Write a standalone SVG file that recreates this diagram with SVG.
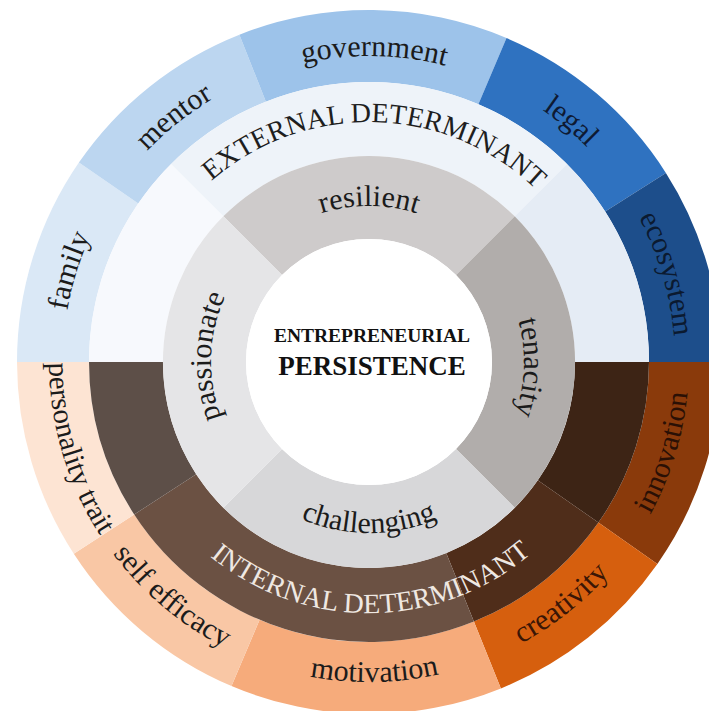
<svg xmlns="http://www.w3.org/2000/svg" xmlns:xlink="http://www.w3.org/1999/xlink" width="709" height="711" viewBox="0 0 709 711">
<style>
  .lbl { font-family: "Liberation Serif", "Times New Roman", serif; font-size: 30px; fill: #1b1b1b; }
  .cap { font-family: "Liberation Serif", "Times New Roman", serif; font-size: 28px; }
  .ctr { font-family: "Liberation Serif", "Times New Roman", serif; font-weight: bold; fill: #111; text-anchor: middle; }
</style>
<defs>
  <path id="p-family" d="M87.3,481.6 A306,306 0 0 1 202.4,105.4"/>
  <path id="p-mentor" d="M69.1,301 A306,306 0 0 1 377,56.1"/>
  <path id="p-government" d="M176.4,124.2 A306,306 0 0 1 569.8,131.1"/>
  <path id="p-legal" d="M369,56 A306,306 0 0 1 670.4,308.9"/>
  <path id="p-ecosystem" d="M537.9,106.8 A306,306 0 0 1 649.6,484"/>
  <path id="p-innovation" d="M543.3,630.4 A320,320 0 0 0 663.6,237"/>
  <path id="p-creativity" d="M360.6,681.9 A320,320 0 0 0 682.6,425.8"/>
  <path id="p-motivation" d="M167.6,610.7 A320,320 0 0 0 579,603.5"/>
  <path id="p-selfefficacy" d="M53.9,417.6 A320,320 0 0 0 369,682"/>
  <path id="p-personality" d="M75.5,234.4 A320,320 0 0 0 192.4,628.8"/>
  <path id="p-external" d="M164.4,236.6 A240,240 0 0 1 579.9,247.5"/>
  <path id="p-internal" d="M152.7,489.4 A251,251 0 0 0 587.5,485.6"/>
  <path id="p-resilient" d="M249.5,261.7 A156,156 0 0 1 488.5,261.7"/>
  <path id="p-tenacity" d="M472.7,246.8 A155,155 0 0 1 464.4,484.1"/>
  <path id="p-passionate" d="M263.3,479.4 A158,158 0 0 1 271.7,237.5"/>
  <path id="p-challenging" d="M238,471.9 A171,171 0 0 0 500,471.9"/>
</defs>
<rect width="709" height="711" fill="#ffffff"/>

<!-- outer ring: external determinants -->
<g id="family">
  <path d="M17,362 A352,352 0 0 1 78.9,162.6 L138.3,203.4 A280,280 0 0 0 89,362 Z" fill="#dae8f6"/>
  <text class="lbl"><textPath href="#p-family" startOffset="50%" text-anchor="middle">family</textPath></text>
</g>
<g id="mentor">
  <path d="M78.9,162.6 A352,352 0 0 1 239.4,34.7 L265.9,101.7 A280,280 0 0 0 138.3,203.4 Z" fill="#bcd6f0"/>
  <text class="lbl"><textPath href="#p-mentor" startOffset="50%" text-anchor="middle">mentor</textPath></text>
</g>
<g id="government">
  <path d="M239.4,34.7 A352,352 0 0 1 506.5,38 L478.4,104.3 A280,280 0 0 0 265.9,101.7 Z" fill="#9dc3ea"/>
  <text class="lbl"><textPath href="#p-government" startOffset="50%" text-anchor="middle">government</textPath></text>
</g>
<g id="legal">
  <path d="M506.5,38 A352,352 0 0 1 665.9,172.9 L605.2,211.6 A280,280 0 0 0 478.4,104.3 Z" fill="#2f72c0"/>
  <text class="lbl" fill="#0e1a33" style="fill:#0e1a33"><textPath href="#p-legal" startOffset="50%" text-anchor="middle">legal</textPath></text>
</g>
<g id="ecosystem">
  <path d="M665.9,172.9 A352,352 0 0 1 721,362 L649,362 A280,280 0 0 0 605.2,211.6 Z" fill="#1d4e8b"/>
  <text class="lbl" style="fill:#0b1a30"><textPath href="#p-ecosystem" startOffset="50%" text-anchor="middle">ecosystem</textPath></text>
</g>

<!-- outer ring: internal determinants -->
<g id="innovation">
  <path d="M721,362 A352,352 0 0 1 657.4,563.9 L598.4,522.6 A280,280 0 0 0 649,362 Z" fill="#8a3a0b"/>
  <text class="lbl" style="fill:#2a1005"><textPath href="#p-innovation" startOffset="50%" text-anchor="middle">innovation</textPath></text>
</g>
<g id="creativity">
  <path d="M657.4,563.9 A352,352 0 0 1 500.9,688.4 L473.9,621.6 A280,280 0 0 0 598.4,522.6 Z" fill="#d65f0e"/>
  <text class="lbl" style="fill:#3a1606"><textPath href="#p-creativity" startOffset="50%" text-anchor="middle">creativity</textPath></text>
</g>
<g id="motivation">
  <path d="M500.9,688.4 A352,352 0 0 1 231.5,686 L259.6,619.7 A280,280 0 0 0 473.9,621.6 Z" fill="#f6ab7b"/>
  <text class="lbl"><textPath href="#p-motivation" startOffset="50%" text-anchor="middle">motivation</textPath></text>
</g>
<g id="self-efficacy">
  <path d="M231.5,686 A352,352 0 0 1 73.8,553.7 L134.2,514.5 A280,280 0 0 0 259.6,619.7 Z" fill="#f9c7a5"/>
  <text class="lbl"><textPath href="#p-selfefficacy" startOffset="50%" text-anchor="middle">self efficacy</textPath></text>
</g>
<g id="personality-trait">
  <path d="M73.8,553.7 A352,352 0 0 1 17,362 L89,362 A280,280 0 0 0 134.2,514.5 Z" fill="#fde4d3"/>
  <text class="lbl" style="font-size:29px"><textPath href="#p-personality" startOffset="50%" text-anchor="middle">personality trait</textPath></text>
</g>

<!-- middle ring -->
<g id="external-determinant">
  <path d="M89,362 A280,280 0 0 1 171,164 L223.3,216.3 A206,206 0 0 0 163,362 Z" fill="#f7f9fd"/>
  <path d="M171,164 A280,280 0 0 1 567,164 L514.7,216.3 A206,206 0 0 0 223.3,216.3 Z" fill="#eef3f9"/>
  <path d="M567,164 A280,280 0 0 1 649,362 L575,362 A206,206 0 0 0 514.7,216.3 Z" fill="#e5ecf5"/>
  <text class="cap" style="fill:#1e1e1e"><textPath href="#p-external" startOffset="50%" text-anchor="middle">EXTERNAL DETERMINANT</textPath></text>
</g>
<g id="internal-determinant">
  <path d="M649,362 A280,280 0 0 1 598.4,522.6 L537.8,480.2 A206,206 0 0 0 575,362 Z" fill="#3d2415"/>
  <path d="M598.4,522.6 A280,280 0 0 1 473.9,621.6 L446.2,553 A206,206 0 0 0 537.8,480.2 Z" fill="#4f2d1a"/>
  <path d="M473.9,621.6 A280,280 0 0 1 134.2,514.5 L196.2,474.2 A206,206 0 0 0 446.2,553 Z" fill="#6b5143"/>
  <path d="M134.2,514.5 A280,280 0 0 1 89,362 L163,362 A206,206 0 0 0 196.2,474.2 Z" fill="#5d4f48"/>
  <text class="cap" style="fill:#efe8e2"><textPath href="#p-internal" startOffset="50%" text-anchor="middle">INTERNAL DETERMINANT</textPath></text>
</g>

<!-- gray ring -->
<g id="resilient">
  <path d="M223.3,216.3 A206,206 0 0 1 514.7,216.3 L456,275 A123,123 0 0 0 282,275 Z" fill="#cecbcb"/>
  <text class="lbl"><textPath href="#p-resilient" startOffset="50%" text-anchor="middle">resilient</textPath></text>
</g>
<g id="tenacity">
  <path d="M514.7,216.3 A206,206 0 0 1 514.7,507.7 L456,449 A123,123 0 0 0 456,275 Z" fill="#b1adab"/>
  <text class="lbl"><textPath href="#p-tenacity" startOffset="50%" text-anchor="middle">tenacity</textPath></text>
</g>
<g id="challenging">
  <path d="M514.7,507.7 A206,206 0 0 1 223.3,507.7 L282,449 A123,123 0 0 0 456,449 Z" fill="#d7d7d9"/>
  <text class="lbl"><textPath href="#p-challenging" startOffset="50%" text-anchor="middle">challenging</textPath></text>
</g>
<g id="passionate">
  <path d="M223.3,507.7 A206,206 0 0 1 223.3,216.3 L282,275 A123,123 0 0 0 282,449 Z" fill="#e5e5e7"/>
  <text class="lbl"><textPath href="#p-passionate" startOffset="50%" text-anchor="middle">passionate</textPath></text>
</g>

<!-- centre -->
<g id="entrepreneurial-persistence">
  <circle cx="369" cy="362" r="123" fill="#ffffff"/>
  <text class="ctr" x="372" y="342" style="font-size:19.5px">ENTREPRENEURIAL</text>
  <text class="ctr" x="372" y="375" style="font-size:27px">PERSISTENCE</text>
</g>
</svg>
